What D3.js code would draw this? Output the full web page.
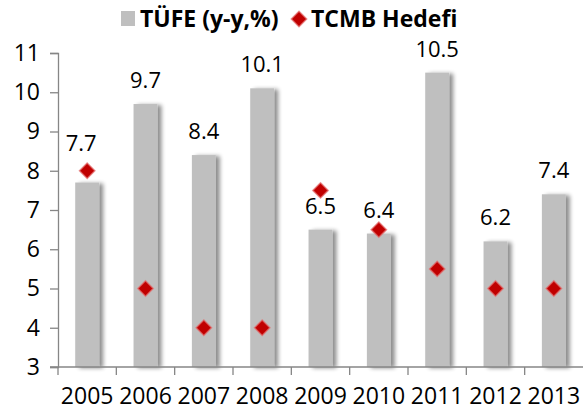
<!DOCTYPE html>
<html>
<head>
<meta charset="utf-8">
<script src="https://cdn.jsdelivr.net/npm/d3@7"></script>
<style>
  body { margin: 0; background: #fff; }
  svg { display: block; font-family: "Open Sans", sans-serif; }
</style>
</head>
<body>
<div id="chart"></div>
<script>
// data
const years = ["2005", "2006", "2007", "2008", "2009", "2010", "2011", "2012", "2013"];
const tufe = [7.7, 9.7, 8.4, 10.1, 6.5, 6.4, 10.5, 6.2, 7.4];
const hedef = [8, 5, 4, 4, 7.5, 6.5, 5.5, 5, 5];
const yTicks = [3, 4, 5, 6, 7, 8, 9, 10, 11];
const legendNames = ["TÜFE (y-y,%)", "TCMB Hedefi"];

const width = 583, height = 412;
const plotLeft = 58, plotRight = 583, plotTop = 53, plotBottom = 367;

// 2005 label was pushed up above the diamond in the original
const labelNudge = { "2005": [-6, -16] };

let svg = d3.select("#chart")
  .append("svg")
  .attr("width", width)
  .attr("height", height);

let defs = svg.append("defs");
let shadow = defs.append("filter")
  .attr("id", "barShadow")
  .attr("x", "-20%").attr("y", "-5%")
  .attr("width", "160%").attr("height", "110%");
shadow.append("feGaussianBlur").attr("in", "SourceAlpha").attr("stdDeviation", 2).attr("result", "blur");
shadow.append("feOffset").attr("in", "blur").attr("dx", 4).attr("dy", 1).attr("result", "off");
shadow.append("feComponentTransfer").attr("in", "off").attr("result", "soft")
  .append("feFuncA").attr("type", "linear").attr("slope", 0.45);
let merge = shadow.append("feMerge");
merge.append("feMergeNode").attr("in", "soft");
merge.append("feMergeNode").attr("in", "SourceGraphic");

let x = d3.scaleBand()
  .domain(years)
  .range([plotLeft, plotRight])
  .paddingInner(0)
  .paddingOuter(0);

let y = d3.scaleLinear()
  .domain([3, 11])
  .range([plotBottom, plotTop]);

const barW = x.bandwidth() * 0.41;

// bars
svg.append("g")
  .selectAll("rect")
  .data(tufe)
  .enter()
    .append("rect")
    .attr("x", (d, i) => x(years[i]) + x.bandwidth() / 2 - barW / 2)
    .attr("y", d => y(d))
    .attr("width", barW)
    .attr("height", d => y(3) - y(d))
    .attr("fill", "#bfbfbf")
    .attr("filter", "url(#barShadow)");

// y axis
let yAxis = svg.append("g")
  .attr("transform", `translate(${plotLeft},0)`)
  .call(d3.axisLeft(y).tickValues(yTicks).tickSize(8).tickPadding(10).tickFormat(d3.format("d")));
yAxis.select(".domain").attr("stroke", "#868686").attr("stroke-width", 1.3);
yAxis.selectAll(".tick line").attr("stroke", "#868686").attr("stroke-width", 1.3);
yAxis.selectAll(".tick text")
  .attr("font-size", 23)
  .attr("fill", "#000")
  .style("font-family", "Open Sans");

// x axis, ticks at category boundaries
let xAxis = svg.append("g")
  .attr("transform", `translate(0,${plotBottom})`);
xAxis.append("line")
  .attr("x1", plotLeft - 8).attr("x2", plotRight)
  .attr("stroke", "#868686").attr("stroke-width", 1.3);
xAxis.selectAll("line.tk")
  .data(years)
  .enter()
    .append("line")
    .attr("class", "tk")
    .attr("x1", d => x(d)).attr("x2", d => x(d))
    .attr("y1", 0).attr("y2", 8)
    .attr("stroke", "#868686").attr("stroke-width", 1.3);
xAxis.selectAll("text")
  .data(years)
  .enter()
    .append("text")
    .attr("x", d => x(d) + x.bandwidth() / 2)
    .attr("y", 37)
    .attr("text-anchor", "middle")
    .attr("font-size", 23)
    .text(d => d);

// value labels
svg.append("g")
  .selectAll("text")
  .data(tufe)
  .enter()
    .append("text")
    .attr("x", (d, i) => x(years[i]) + x.bandwidth() / 2 + (labelNudge[years[i]] ? labelNudge[years[i]][0] : 0))
    .attr("y", (d, i) => y(d) - 16 + (labelNudge[years[i]] ? labelNudge[years[i]][1] : 0))
    .attr("text-anchor", "middle")
    .attr("font-size", 22)
    .text(d => d.toFixed(1));

// target diamonds
const diamond = d3.symbol().type(d3.symbolDiamond2).size(150);
svg.append("g")
  .selectAll("path")
  .data(hedef)
  .enter()
    .append("path")
    .attr("d", diamond)
    .attr("transform", (d, i) => `translate(${x(years[i]) + x.bandwidth() / 2},${y(d)})`)
    .attr("fill", "#c00000")
    .attr("stroke", "#e46c6c")
    .attr("stroke-opacity", 0.7)
    .attr("stroke-width", 1.5);

// legend
let legend = svg.append("g").attr("font-weight", "bold").attr("font-size", 23);
legend.append("rect")
  .attr("x", 121).attr("y", 11).attr("width", 14).attr("height", 15)
  .attr("fill", "#bfbfbf");
legend.append("text")
  .attr("x", 140).attr("y", 27)
  .text(legendNames[0]);
legend.append("path")
  .attr("d", diamond)
  .attr("transform", "translate(299,19)")
  .attr("fill", "#c00000")
  .attr("stroke", "#e46c6c")
  .attr("stroke-opacity", 0.7)
  .attr("stroke-width", 1.5);
legend.append("text")
  .attr("x", 311).attr("y", 27)
  .text(legendNames[1]);
</script>
</body>
</html>
